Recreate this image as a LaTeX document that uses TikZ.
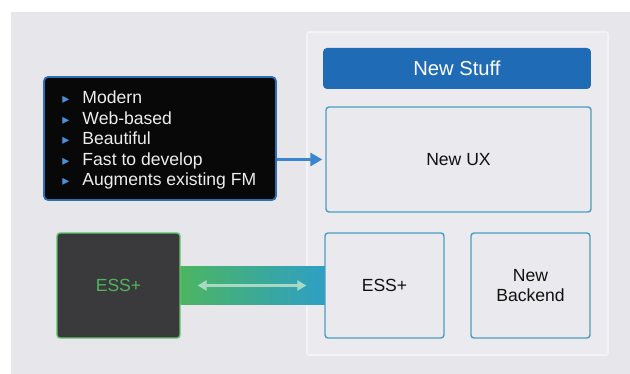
\documentclass[tikz,border=0pt]{standalone}
\usepackage{fontspec}
\setmainfont{Liberation Sans}
\newfontfamily\trifont{DejaVu Sans}
\usepackage{tikz}
\usetikzlibrary{arrows.meta}

\definecolor{canvas}{HTML}{E6E6EB}
\definecolor{panelfill}{HTML}{EBEBEF}
\definecolor{paneledge}{HTML}{F3F3F6}
\definecolor{boxfill}{HTML}{E9E9EE}
\definecolor{boxedge}{HTML}{4B9DC0}
\definecolor{titleblue}{HTML}{1F6BB5}
\definecolor{pitchedge}{HTML}{2C6DB3}
\definecolor{bulletblue}{HTML}{4A90D9}
\definecolor{feedblue}{HTML}{3A85CF}
\definecolor{legacyfill}{HTML}{3A393C}
\definecolor{legacyedge}{HTML}{5FC36C}
\definecolor{legacytext}{HTML}{4FB65E}
\definecolor{bandgreen}{HTML}{4CB561}
\definecolor{bandteal}{HTML}{2E9FC6}
\definecolor{syncline}{HTML}{A8D9C2}
\definecolor{ink}{HTML}{111111}

\pgfdeclarelayer{back}
\pgfdeclarelayer{mid}
\pgfsetlayers{back,mid,main}

\newcommand{\bul}{\makebox[0.4cm][l]{\textcolor{bulletblue}{\trifont\fontsize{8}{8}\selectfont ▸}}}

\begin{document}
\begin{tikzpicture}
	[%
	x=0.02cm, y=-0.02cm,%
	panel/.style  ={rectangle,	rounded corners=0.04cm,	draw=paneledge,	fill=panelfill,	line width=1pt,	minimum width=6.02cm,	minimum height=6.46cm},%
	title/.style  ={rectangle,	rounded corners=0.08cm,	fill=titleblue,	text=white,	minimum width=5.36cm,	minimum height=0.82cm,	font=\fontsize{11.5}{13}\selectfont},%
	box/.style    ={rectangle,	rounded corners=0.06cm,	draw=boxedge,	fill=boxfill,	line width=0.8pt,	text=ink,	minimum width=2.38cm,	minimum height=2.1cm,	align=center,	font=\fontsize{10}{11.5}\selectfont},%
	pitch/.style  ={rectangle,	rounded corners=0.08cm,	draw=pitchedge,	fill=black!97,	line width=1pt,	minimum width=4.64cm,	minimum height=2.46cm},%
	legacy/.style ={rectangle,	rounded corners=0.06cm,	draw=legacyedge,	fill=legacyfill,	line width=0.8pt,	text=legacytext,	minimum width=2.46cm,	minimum height=2.1cm,	font=\fontsize{10}{11.5}\selectfont},%
	feed/.style   ={-{Triangle[length=0.24cm,width=0.26cm]},	draw=feedblue,	line width=0.06cm,	shorten >=0.06cm},%
	sync/.style   ={{Triangle[length=0.18cm,width=0.2cm]}-{Triangle[length=0.18cm,width=0.2cm]},	draw=syncline,	line width=0.06cm,	shorten <=0.34cm,	shorten >=0.36cm},%
	]

	\useasboundingbox (0,0) rectangle (630,374);

	% backdrop
	\begin{pgfonlayer}{back}
	\fill [canvas] (11,12) rectangle (630,374);
	\node (panel) at (457.5,193.5) [panel] {};
	\end{pgfonlayer}

	% nodes
	\node (title)   at (457,68.5)    [title] {New Stuff};
	\node (ux)      at (458.5,159.5) [box, minimum width=5.3cm] {New UX};
	\node (essnew)  at (384.5,285.5) [box] {ESS+};
	\node (backend) at (530.5,285.5) [box] {New\\Backend};

	\node (pitch)   at (160,138.5)   [pitch] {};
	\node (features) at ([xshift=0.38cm, yshift=-0.03cm]pitch.west) [anchor=west, inner sep=0pt, align=left, text=white!93!black, font=\fontsize{10}{11.66}\selectfont]
		{\bul Modern\\ \bul Web-based\\ \bul Beautiful\\ \bul Fast to develop\\ \bul Augments existing FM};

	\node (essold)  at (118.5,285.5) [legacy] {ESS+};

	% interconnections
	\draw [feed] (pitch.east |- ux.west) -- (ux.west);

	\begin{pgfonlayer}{mid}
	\shade [left color=bandgreen, right color=bandteal] ([yshift=0.38cm]essold.east) rectangle ([xshift=0.02cm, yshift=-0.38cm]essnew.west);
	\end{pgfonlayer}

	\draw [sync] (essold) -- (essnew);

\end{tikzpicture}
\end{document}
